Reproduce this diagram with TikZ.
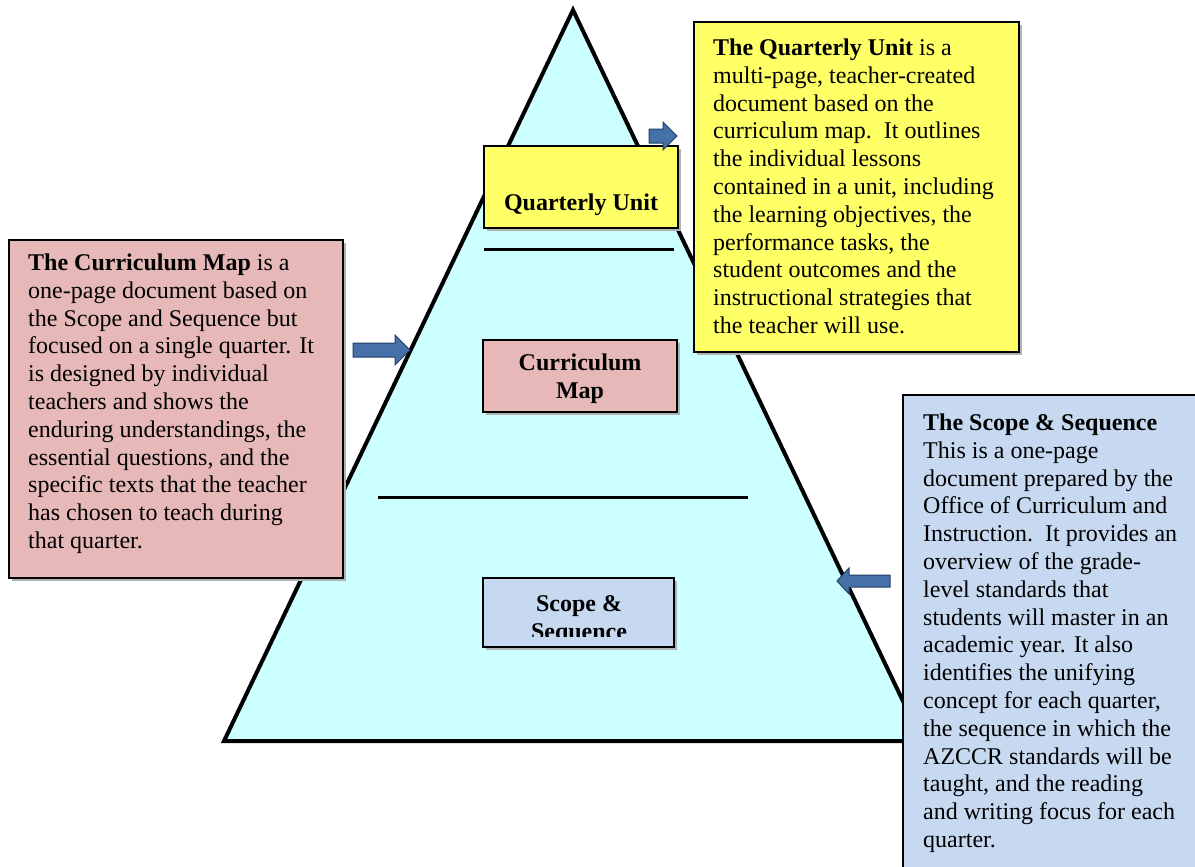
\documentclass[tikz,border=0pt]{standalone}
\usepackage{fontspec}
\setmainfont{Liberation Serif}
\definecolor{tri}{RGB}{204,255,255}
\definecolor{yel}{RGB}{255,255,102}
\definecolor{pinkc}{RGB}{230,185,184}
\definecolor{bluec}{RGB}{198,217,241}
\definecolor{arrowblue}{RGB}{70,112,168}
\definecolor{arrowdark}{RGB}{35,64,105}
\begin{document}
\begin{tikzpicture}[x=1pt,y=-1pt,
  bigtxt/.style={font=\fontsize{24}{27.8}\selectfont, align=left, inner sep=0pt, anchor=north west},
  boxtxt/.style={font=\fontsize{24}{27.8}\selectfont\bfseries, align=center, inner sep=0pt},
  panel/.style={draw=black, line width=1.5pt, inner sep=0pt},
  shadowbox/.style={fill=black!30, draw=none},
  blockarrow/.style={fill=arrowblue, draw=arrowdark, line width=1pt, line join=miter},
  divider/.style={line width=3pt}]
\clip (0,0) rectangle (1195,867);
\fill[white] (0,0) rectangle (1195,867);

% pyramid
\coordinate (apex) at (573,10);
\coordinate (bl) at (224,741);
\coordinate (br) at (922,741);
\filldraw[fill=tri, line width=4pt, line join=miter] (apex) -- (bl) -- (br) -- cycle;

% dividers
\coordinate (d1a) at (484,249);
\coordinate (d1b) at (674,249);
\coordinate (d2a) at (378,497);
\coordinate (d2b) at (748,497);
\draw[divider] (d1a) -- (d1b);
\draw[divider] (d2a) -- (d2b);

% small labels inside pyramid
\fill[shadowbox] (487,149) rectangle (681,231);
\node[panel, fill=yel, minimum width=194pt, minimum height=82pt] (qbox) at (581,187) {};
\node[boxtxt, anchor=base] (qlab) at (581,210) {Quarterly Unit};

\fill[shadowbox] (486,343) rectangle (680,415);
\node[panel, fill=pinkc, minimum width=194pt, minimum height=72pt] (cbox) at (580,376) {};
\node[boxtxt, anchor=north] (clab) at (580,353.5) {Curriculum\\Map};

\fill[shadowbox] (486,581) rectangle (677,650);
\node[panel, fill=bluec, minimum width=191pt, minimum height=69pt] (sbox) at (578.5,612.5) {};
\begin{scope}
\clip (483,578) rectangle (674,636);
\node[boxtxt, anchor=north] (slab) at (579,595.6) {Scope \&\\Sequence};
\end{scope}

% block arrows
\draw[blockarrow] (649,129) -- (663,129) -- (663,122) -- (677,136) -- (663,150) -- (663,143) -- (649,143) -- cycle;
\draw[blockarrow] (353,343) -- (395,343) -- (395,335) -- (410,350) -- (395,365) -- (395,357) -- (353,357) -- cycle;
\draw[blockarrow] (890,575) -- (849,575) -- (849,568) -- (837,581) -- (849,594) -- (849,587) -- (890,587) -- cycle;

% big description boxes
\fill[shadowbox] (697,25) rectangle (1022,355);
\node[panel, fill=yel, minimum width=325pt, minimum height=330pt] (qdesc) at (856.5,187) {};
\node[bigtxt] (qtext) at (713,38.6) {\textbf{The Quarterly Unit} is a\\
multi-page, teacher-created\\
document based on the\\
curriculum map.\ \ It outlines\\
the individual lessons\\
contained in a unit, including\\
the learning objectives, the\\
performance tasks, the\\
student outcomes and the\\
instructional strategies that\\
the teacher will use.};

\fill[shadowbox] (12,243) rectangle (346,581);
\node[panel, fill=pinkc, minimum width=334pt, minimum height=338pt] (cdesc) at (176,409) {};
\node[bigtxt] (ctext) at (28,253.6) {\textbf{The Curriculum Map} is a\\
one-page document based on\\
the Scope and Sequence but\\
focused on a single quarter. It\\
is designed by individual\\
teachers and shows the\\
enduring understandings, the\\
essential questions, and the\\
specific texts that the teacher\\
has chosen to teach during\\
that quarter.};

\node[panel, fill=bluec, minimum width=300pt, minimum height=480pt] (sdesc) at (1053,635) {};
\node[bigtxt] (stext) at (923,413.6) {\textbf{The Scope \& Sequence}\\
This is a one-page\\
document prepared by the\\
Office of Curriculum and\\
Instruction.\ \ It provides an\\
overview of the grade-\\
level standards that\\
students will master in an\\
academic year. It also\\
identifies the unifying\\
concept for each quarter,\\
the sequence in which the\\
AZCCR standards will be\\
taught, and the reading\\
and writing focus for each\\
quarter.};
\end{tikzpicture}
\end{document}
